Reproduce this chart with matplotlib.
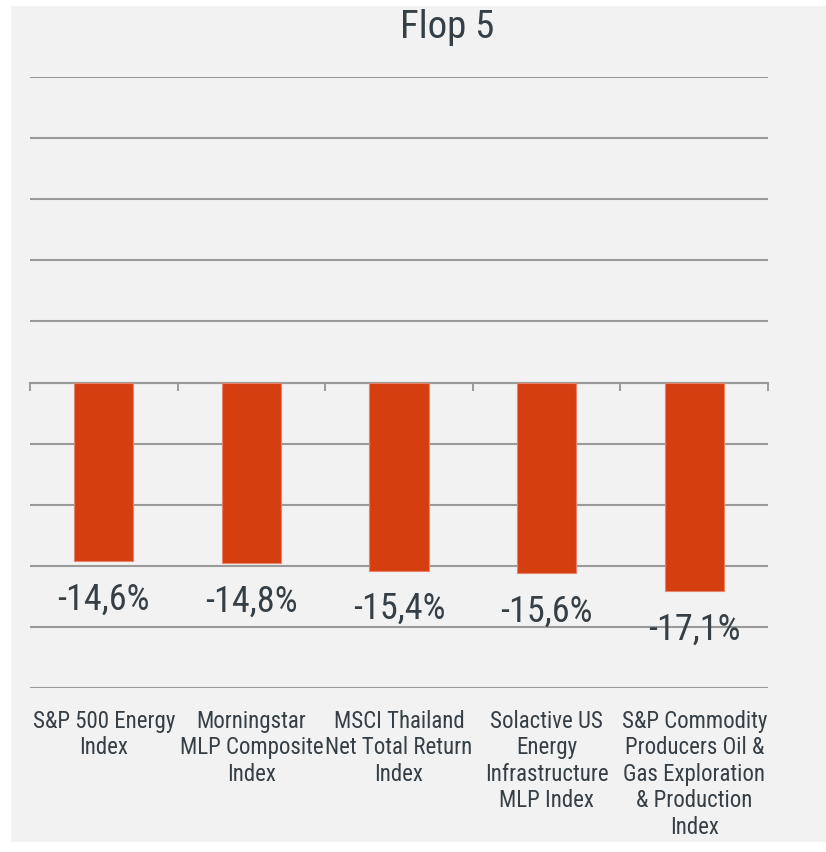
import matplotlib
matplotlib.use("Agg")
import matplotlib.pyplot as plt
from matplotlib import font_manager
from matplotlib.patches import Rectangle

categories = [
    "S&P 500 Energy\nIndex",
    "Morningstar\nMLP Composite\nIndex",
    "MSCI Thailand\nNet Total Return\nIndex",
    "Solactive US\nEnergy\nInfrastructure\nMLP Index",
    "S&P Commodity\nProducers Oil &\nGas Exploration\n& Production\nIndex",
]
values = [-14.6, -14.8, -15.4, -15.6, -17.1]
value_labels = ["-14,6%", "-14,8%", "-15,4%", "-15,6%", "-17,1%"]
title = "Flop 5"

names = {f.name for f in font_manager.fontManager.ttflist}
font = "Roboto"
for cand in ["Roboto Condensed", "Liberation Sans Narrow", "Open Sans Condensed",
             "Noto Sans Condensed", "Roboto"]:
    if cand in names:
        font = cand
        break
plt.rcParams["font.family"] = [font, "DejaVu Sans"]

W, H = 826, 853
fig = plt.figure(figsize=(W / 100, H / 100), dpi=100, facecolor="white")
bg = "#f2f2f2"
fig.add_artist(Rectangle((11 / W, 10 / H), 1 - 11 / W, 1 - 17 / H,
                         transform=fig.transFigure, facecolor=bg,
                         edgecolor="none", zorder=-10))

ax = fig.add_axes([30 / W, 1 - 689 / H, (768 - 30) / W, (689 - 78) / H])
ax.set_facecolor("none")
ax.set_xlim(-0.5, len(values) - 0.5)
ax.set_ylim(-25, 25)

grid_c = "#9a9a9a"
ax.set_yticks(range(-25, 26, 5))
ax.yaxis.grid(True, color=grid_c, linewidth=1.5)
ax.set_axisbelow(True)
ax.tick_params(axis="y", left=False, labelleft=False)
for s in ["left", "right", "top"]:
    ax.spines[s].set_visible(False)
ax.spines["bottom"].set_position(("data", 0))
ax.spines["bottom"].set_color(grid_c)
ax.spines["bottom"].set_linewidth(1.5)
ax.set_xticks([i - 0.5 for i in range(len(values) + 1)])
ax.tick_params(axis="x", direction="out", length=6, width=1.4,
               color=grid_c, labelbottom=False)

x = list(range(len(values)))
ax.bar(x, values, width=0.4, color="#d53e0f", edgecolor="#e8826a",
       linewidth=0.8, zorder=3)

txt_c = "#353f45"
for xi, v, lab in zip(x, values, value_labels):
    ax.annotate(lab, (xi, v), xytext=(0, -27), textcoords="offset points",
                ha="center", va="center", fontsize=26, color=txt_c, zorder=4)

for xi, cat in zip(x, categories):
    ax.annotate(cat, (xi, -25), xytext=(0, -15), textcoords="offset points",
                ha="center", va="top", fontsize=16.5, color=txt_c,
                linespacing=1.19)

fig.text(447 / W, 1 - 28 / H, title, ha="center", va="center",
         fontsize=28, color=txt_c)

fig.savefig("out.png", dpi=100, facecolor="white")
